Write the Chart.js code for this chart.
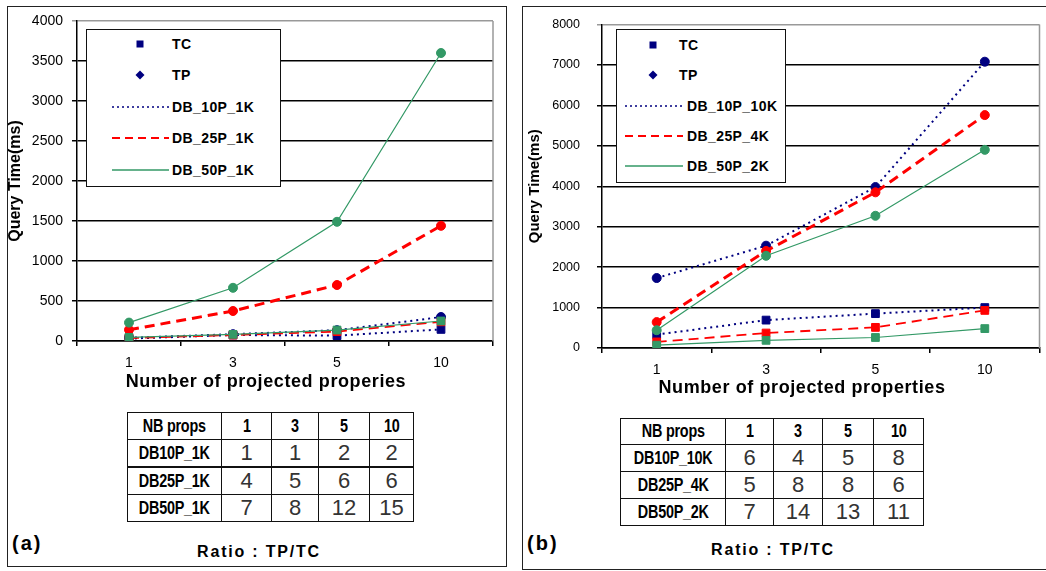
<!DOCTYPE html>
<html lang="en">
<head>
<meta charset="UTF-8" />
<title>Query time vs projected properties</title>
<script src="https://cdn.jsdelivr.net/npm/chart.js"></script>
<style>
    body { margin: 0; background: #fff; font-family: "Liberation Sans", Arial, sans-serif; }
    #page { position: relative; width: 1046px; height: 571px; overflow: hidden; }
    .panel { position: absolute; border: 1.5px solid #222; box-sizing: border-box; }
    canvas { position: absolute; top: 0; }
    .legend { position: absolute; border: 1.5px solid #111; background: #fff; box-sizing: border-box; }
    .legend svg { position: absolute; left: 0; }
    .legend span { position: absolute; font-weight: bold; font-size: 14px; line-height: 18px; letter-spacing: 0.4px; white-space: nowrap; }
    .xtitle { position: absolute; width: 400px; text-align: center; font-weight: bold; font-size: 18px; letter-spacing: 0.6px; line-height: 22px; }
    table.ratio { position: absolute; border-collapse: collapse; table-layout: fixed; }
    table.ratio td { border: 1.5px solid #111; text-align: center; padding: 0; color: #333; font-size: 22px; overflow: visible; white-space: nowrap; }
    table.ratio td.lab, table.ratio tr.head td { font-weight: bold; font-size: 18px; color: #000; letter-spacing: -0.3px; }
    table.ratio .nar { display: inline-block; transform: scaleX(0.8); }
    .tag { position: absolute; font-weight: bold; font-size: 20px; letter-spacing: 2px; line-height: 24px; }
    .ratiotitle { position: absolute; width: 200px; text-align: center; font-weight: bold; font-size: 16px; letter-spacing: 1.8px; line-height: 20px; }
</style>
</head>
<body>
<div id="page">
    <div class="panel" style="left:7px; top:6px; width:500px; height:561px;"></div>
    <div class="panel" style="left:522px; top:6px; width:540px; height:564px;"></div>

    <canvas id="chart-a" width="520" height="400" style="left:0px;"></canvas>
    <canvas id="chart-b" width="526" height="400" style="left:520px;"></canvas>

    <div id="legend-a" class="legend" style="left:86px; top:29px; width:195px; height:158px;"></div>
    <div id="legend-b" class="legend" style="left:616px; top:29px; width:170px; height:154px;"></div>

    <div class="xtitle" style="left:66px; top:370px;">Number of projected properies</div>
    <div class="xtitle" style="left:602px; top:376px;">Number of projected properties</div>

    <table id="table-a" class="ratio" style="left:127px; top:412px;"></table>
    <table id="table-b" class="ratio" style="left:620px; top:418px;"></table>

    <div class="tag" style="left:12px; top:531px;">(a)</div>
    <div class="tag" style="left:527px; top:531px;">(b)</div>
    <div class="ratiotitle" style="left:159px; top:542px;">Ratio : TP/TC</div>
    <div class="ratiotitle" style="left:673px; top:540px;">Ratio : TP/TC</div>
</div>

<script>
    // x categories = number of projected properties
    const categories = ['1', '3', '5', '10'];

    // (a) databases with 1K records
    const seriesA = ['DB_10P_1K', 'DB_25P_1K', 'DB_50P_1K'];
    const tpA10 = [40, 85, 135, 300];
    const tcA10 = [30, 75, 67, 145];
    const tpA25 = [140, 375, 700, 1440];
    const tcA25 = [35, 75, 117, 240];
    const tpA50 = [230, 665, 1490, 3600];
    const tcA50 = [45, 83, 137, 250];
    const yMaxA = 4000, yStepA = 500;

    // (b) databases of different sizes
    const seriesB = ['DB_10P_10K', 'DB_25P_4K', 'DB_50P_2K'];
    const tpB10 = [1730, 2530, 3980, 7080];
    const tcB10 = [330, 690, 850, 1000];
    const tpB25 = [640, 2400, 3850, 5760];
    const tcB25 = [150, 370, 510, 930];
    const tpB50 = [440, 2280, 3270, 4900];
    const tcB50 = [70, 190, 260, 480];
    const yMaxB = 8000, yStepB = 1000;

    // ratio tables TP/TC
    const tableHead = ['NB props', '1', '3', '5', '10'];
    const rowsA = ['DB10P_1K', 'DB25P_1K', 'DB50P_1K'];
    const ratiosA = [[1, 1, 2, 2], [4, 5, 6, 6], [7, 8, 12, 15]];
    const rowsB = ['DB10P_10K', 'DB25P_4K', 'DB50P_2K'];
    const ratiosB = [[6, 4, 5, 8], [5, 8, 8, 6], [7, 14, 13, 11]];

    const FONT = "'Liberation Sans', Arial, sans-serif";
    const navy = '#000080', red = '#ff0000', green = '#339966';
    const styles = [
        { color: navy, dash: [2, 4], tpWidth: 2, tcWidth: 2 },
        { color: red, dash: [10, 6], tpWidth: 3, tcWidth: 1.8 },
        { color: green, dash: [], tpWidth: 1.2, tcWidth: 1.2 }
    ];

    function lineSets(names, tp, tc) {
        const sets = [];
        names.forEach((name, i) => {
            const st = styles[i];
            const common = {
                borderColor: st.color, backgroundColor: st.color,
                pointBorderColor: st.color, pointBackgroundColor: st.color,
                borderDash: st.dash, order: 3 - i, fill: false
            };
            sets.push({ ...common, label: name + ' TP', data: tp[i], borderWidth: st.tpWidth, pointStyle: 'circle', pointRadius: 4.5, pointBorderWidth: 1 });
            sets.push({ ...common, label: name + ' TC', data: tc[i], borderWidth: st.tcWidth, pointStyle: 'rect', pointRadius: 5.5, pointBorderWidth: 1 });
        });
        return sets;
    }

    // grey right edge of the plot area
    const plotEdge = {
        id: 'plotEdge',
        beforeDatasetsDraw(chart) {
            const { ctx, chartArea: a } = chart;
            ctx.save();
            ctx.strokeStyle = '#999';
            ctx.lineWidth = 1.5;
            ctx.beginPath();
            ctx.moveTo(a.right, a.top);
            ctx.lineTo(a.right, a.bottom);
            ctx.stroke();
            ctx.restore();
        }
    };

    function makeChart(id, o) {
        return new Chart(document.getElementById(id), {
            type: 'line',
            data: { labels: categories, datasets: o.datasets },
            options: {
                responsive: false,
                animation: false,
                layout: { padding: o.padding },
                plugins: { legend: { display: false }, tooltip: { enabled: false } },
                scales: {
                    x: {
                        offset: true,
                        grid: { offset: true, drawOnChartArea: false, color: '#000', tickLength: 5, lineWidth: 1.5 },
                        border: { color: '#000', width: 1.5 },
                        ticks: { color: '#000', font: { family: FONT, size: 14 }, padding: 9, maxRotation: 0 },
                        afterFit: s => { s.height = 40; }
                    },
                    y: {
                        min: 0,
                        max: o.yMax,
                        ticks: {
                            stepSize: o.yStep, color: '#000', font: { family: FONT, size: o.yFont }, padding: o.yPad,
                            callback: v => String(v)
                        },
                        grid: {
                            color: c => (c.tick && c.tick.value === o.yMax) ? '#999' : '#000',
                            lineWidth: 1.5,
                            tickLength: 5
                        },
                        border: { color: '#000', width: 1.5 },
                        title: {
                            display: true, text: 'Query Time(ms)', color: '#000',
                            font: { family: FONT, size: o.titleSize, weight: 'bold' },
                            padding: { top: 0, bottom: 0 }
                        },
                        afterFit: s => { s.width = o.yWidth; }
                    }
                }
            },
            plugins: [plotEdge]
        });
    }

    makeChart('chart-a', {
        datasets: lineSets(seriesA, [tpA10, tpA25, tpA50], [tcA10, tcA25, tcA50]),
        yMax: yMaxA, yStep: yStepA, yFont: 14, yPad: 9, yWidth: 71, titleSize: 16,
        padding: { left: 6, top: 21, right: 27, bottom: 19 }
    });

    makeChart('chart-b', {
        datasets: lineSets(seriesB, [tpB10, tpB25, tpB50], [tcB10, tcB25, tcB50]),
        yMax: yMaxB, yStep: yStepB, yFont: 12.5, yPad: 17, yWidth: 76, titleSize: 15,
        padding: { left: 6, top: 21, right: 6, bottom: 12 }
    });

    // legends inside the plot area
    function buildLegend(id, names, g) {
        const el = document.getElementById(id);
        const w = el.clientWidth;
        const items = [
            { kind: 'rect', label: 'TC' },
            { kind: 'diamond', label: 'TP' },
            { kind: 'line', label: names[0], color: navy, dash: '2,3', width: 1.5 },
            { kind: 'line', label: names[1], color: red, dash: '8,5', width: 2 },
            { kind: 'line', label: names[2], color: green, dash: '', width: 1.5 }
        ];
        items.forEach((it, i) => {
            const y = g.rows[i];
            let shape = '';
            if (it.kind === 'rect') {
                shape = `<rect x="${g.mark - 3.5}" y="2.5" width="7" height="7" fill="${navy}"/>`;
            } else if (it.kind === 'diamond') {
                shape = `<polygon points="${g.mark},1.5 ${g.mark + 4.5},6 ${g.mark},10.5 ${g.mark - 4.5},6" fill="${navy}"/>`;
            } else {
                shape = `<line x1="${g.line[0]}" x2="${g.line[1]}" y1="6" y2="6" stroke="${it.color}" stroke-width="${it.width}" stroke-dasharray="${it.dash}"/>`;
            }
            el.insertAdjacentHTML('beforeend',
                `<svg width="${w}" height="12" style="top:${y - 6}px">${shape}</svg>` +
                `<span style="left:${it.kind === 'line' ? g.text : g.markText}px; top:${y - 9}px">${it.label}</span>`);
        });
    }

    buildLegend('legend-a', seriesA, { rows: [14, 45, 77, 108, 140], mark: 53, line: [25, 82], text: 85, markText: 85 });
    buildLegend('legend-b', seriesB, { rows: [15, 45, 76, 106, 136], mark: 36, line: [8, 66], text: 70, markText: 62 });

    // ratio tables
    function buildTable(id, rows, ratios, widths, rowH) {
        const t = document.getElementById(id);
        let html = '<colgroup>' + widths.map(w => `<col style="width:${w}px">`).join('') + '</colgroup>';
        html += `<tr class="head" style="height:${rowH}px">` + tableHead.map(h => `<td><span class="nar">${h}</span></td>`).join('') + '</tr>';
        rows.forEach((r, i) => {
            const thick = i === 0 && id === 'table-a' ? ' style="border-bottom-width:2.5px"' : '';
            html += `<tr style="height:${rowH}px">` + `<td class="lab"${thick}><span class="nar">${r}</span></td>` +
                ratios[i].map(v => `<td${thick}>${v}</td>`).join('') + '</tr>';
        });
        t.innerHTML = html;
        t.style.width = widths.reduce((a, b) => a + b, 0) + 'px';
    }

    buildTable('table-a', rowsA, ratiosA, [94, 50, 47, 51, 44], 27);
    buildTable('table-b', rowsB, ratiosB, [105, 48, 49, 51, 50], 26);
</script>
</body>
</html>
